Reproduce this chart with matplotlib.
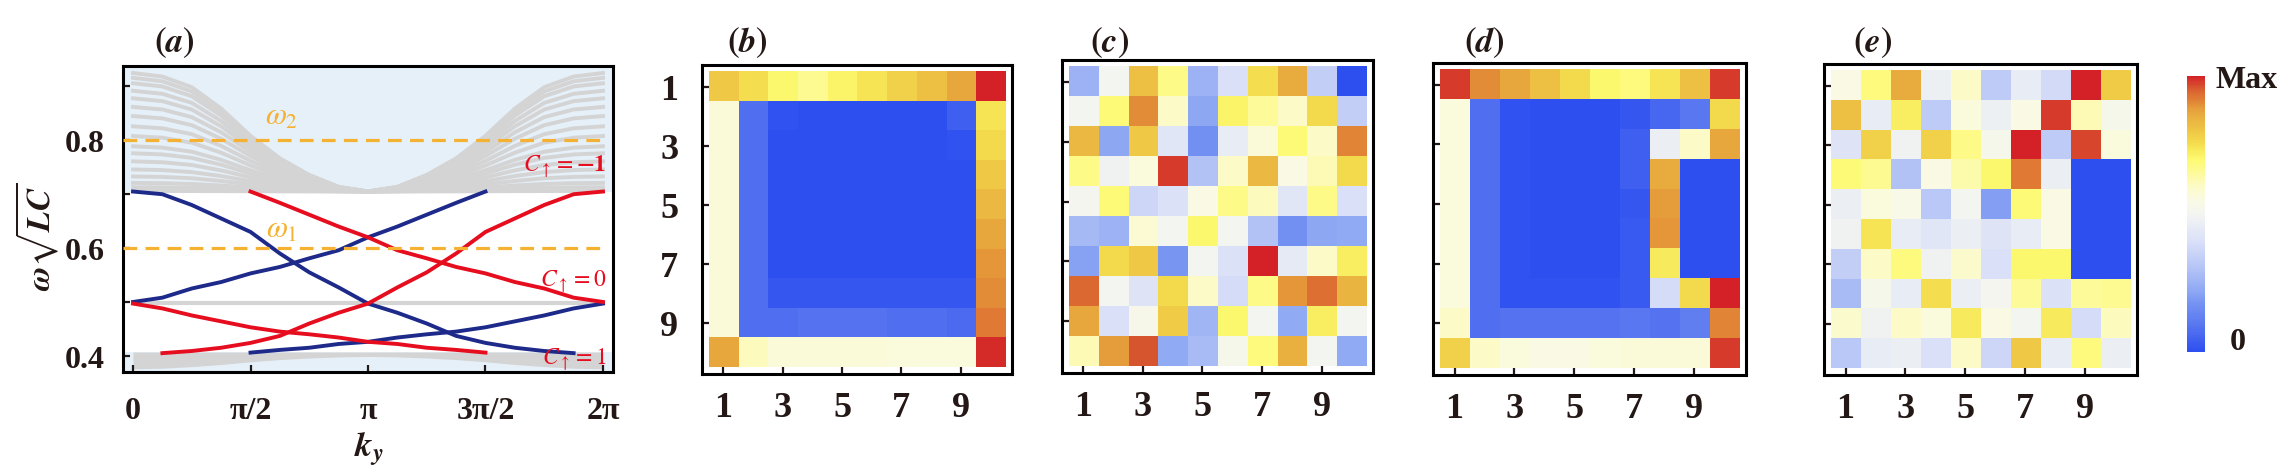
import matplotlib
matplotlib.use('Agg')
import matplotlib.pyplot as plt
from matplotlib.colors import LinearSegmentedColormap
import numpy as np

plt.rcParams['font.family'] = 'Liberation Serif'
plt.rcParams['mathtext.fontset'] = 'stix'

W, H = 2291, 477
INK = '#231815'
BG = '#e6f0f9'
GRAY = '#d4d4d4'
BLUE = '#1d2a8a'
RED = '#e60d1f'
ORANGE = '#f5b131'

# ── panel (a): band structure, sampled every pi/8 ───────────────────────────
K = np.arange(17) * np.pi / 8
K_TICKS = [0, np.pi / 2, np.pi, 3 * np.pi / 2, 2 * np.pi]
K_LABELS = ['0', 'π/2', 'π', '3π/2', '2π']
Y_TICKS = [0.4, 0.6, 0.8]
Y_MINOR = [0.5, 0.7, 0.9]

# upper bulk band: level of each curve at k = 0, and common profile over k
UPPER_K0 = [0.925, 0.916, 0.906, 0.892, 0.878, 0.862, 0.845, 0.826, 0.808,
            0.789, 0.776, 0.761, 0.746, 0.733, 0.721, 0.713, 0.706]
UPPER_BASE = 0.705
UPPER_SHAPE = np.array([1.0, 0.97, 0.88, 0.70, 0.47, 0.28, 0.14, 0.04, 0.0,
                        0.04, 0.14, 0.28, 0.47, 0.70, 0.88, 0.97, 1.0])
# lower bulk band edge
LOWER_EDGE = [0.376, 0.377, 0.380, 0.384, 0.389, 0.393, 0.396, 0.398, 0.399,
              0.398, 0.396, 0.393, 0.389, 0.384, 0.380, 0.377, 0.376]
LOWER_TOP = 0.407
MID_BAND = 0.499
nan = np.nan
# edge states (blue); red ones are their mirror images in k
B1 = [0.705, 0.700, 0.680, 0.655, 0.630, 0.590, 0.555, 0.527, 0.497,
      0.480, 0.460, 0.437, 0.424, 0.415, 0.409, 0.405, nan]
B2 = [0.500, 0.508, 0.525, 0.537, 0.553, 0.565, 0.581, 0.596, 0.620,
      0.640, 0.662, 0.684, 0.705, nan, nan, nan, nan]
R3 = [0.497, 0.488, 0.475, 0.464, 0.453, 0.445, 0.440, 0.434, 0.426,
      0.422, 0.415, 0.411, 0.406, nan, nan, nan, nan]
OMEGA1, OMEGA2 = 0.6, 0.8
CHERN_LABELS = [r'$C_{\uparrow}=\mathbf{-1}$', r'$C_{\uparrow}=0$',
                r'$C_{\uparrow}=1$']
CHERN_Y = [0.752, 0.540, 0.394]

# ── heat maps (normalised 0 .. Max) ─────────────────────────────────────────
B_GRID = [
    [0.80, 0.75, 0.70, 0.66, 0.71, 0.74, 0.78, 0.82, 0.87, 1.00],
    [0.57, 0.08, 0.01, 0.00, 0.00, 0.00, 0.00, 0.00, 0.04, 0.74],
    [0.57, 0.08, 0.00, 0.00, 0.00, 0.00, 0.00, 0.00, 0.01, 0.76],
    [0.57, 0.08, 0.00, 0.00, 0.00, 0.00, 0.00, 0.00, 0.00, 0.80],
    [0.57, 0.08, 0.00, 0.00, 0.00, 0.00, 0.00, 0.00, 0.00, 0.83],
    [0.57, 0.08, 0.00, 0.00, 0.00, 0.00, 0.00, 0.00, 0.00, 0.87],
    [0.57, 0.08, 0.00, 0.00, 0.00, 0.00, 0.00, 0.00, 0.00, 0.89],
    [0.57, 0.08, 0.02, 0.02, 0.02, 0.02, 0.02, 0.02, 0.02, 0.90],
    [0.57, 0.08, 0.08, 0.09, 0.09, 0.09, 0.08, 0.08, 0.07, 0.92],
    [0.87, 0.61, 0.57, 0.57, 0.57, 0.57, 0.56, 0.56, 0.56, 0.99],
]
C_GRID = [
    [0.25, 0.50, 0.82, 0.67, 0.25, 0.40, 0.75, 0.86, 0.34, 0.00],
    [0.50, 0.69, 0.90, 0.60, 0.22, 0.71, 0.65, 0.60, 0.76, 0.34],
    [0.83, 0.22, 0.80, 0.43, 0.17, 0.46, 0.57, 0.69, 0.60, 0.91],
    [0.67, 0.49, 0.56, 0.98, 0.30, 0.60, 0.83, 0.55, 0.62, 0.76],
    [0.51, 0.69, 0.37, 0.41, 0.55, 0.67, 0.61, 0.43, 0.67, 0.40],
    [0.27, 0.25, 0.58, 0.50, 0.70, 0.50, 0.30, 0.17, 0.22, 0.23],
    [0.21, 0.76, 0.80, 0.18, 0.50, 0.41, 1.00, 0.45, 0.60, 0.72],
    [0.94, 0.50, 0.42, 0.76, 0.60, 0.39, 0.67, 0.89, 0.93, 0.84],
    [0.87, 0.40, 0.53, 0.79, 0.26, 0.70, 0.50, 0.23, 0.72, 0.50],
    [0.62, 0.88, 0.96, 0.23, 0.28, 0.52, 0.68, 0.85, 0.50, 0.23],
]
D_GRID = [
    [0.98, 0.90, 0.87, 0.82, 0.76, 0.70, 0.68, 0.74, 0.82, 0.98],
    [0.56, 0.08, 0.01, 0.00, 0.00, 0.00, 0.02, 0.06, 0.10, 0.76],
    [0.56, 0.08, 0.01, 0.00, 0.00, 0.00, 0.04, 0.47, 0.60, 0.87],
    [0.56, 0.08, 0.01, 0.00, 0.00, 0.00, 0.04, 0.86, 0.00, 0.00],
    [0.56, 0.08, 0.01, 0.00, 0.00, 0.00, 0.02, 0.88, 0.00, 0.00],
    [0.56, 0.08, 0.01, 0.00, 0.00, 0.00, 0.03, 0.89, 0.00, 0.00],
    [0.56, 0.08, 0.01, 0.00, 0.00, 0.00, 0.03, 0.73, 0.00, 0.00],
    [0.56, 0.08, 0.01, 0.01, 0.01, 0.01, 0.03, 0.39, 0.76, 1.00],
    [0.60, 0.08, 0.09, 0.09, 0.09, 0.09, 0.10, 0.09, 0.12, 0.91],
    [0.78, 0.60, 0.56, 0.55, 0.55, 0.56, 0.57, 0.57, 0.57, 0.98],
]
E_GRID = [
    [0.55, 0.68, 0.86, 0.48, 0.60, 0.33, 0.46, 0.38, 1.00, 0.79],
    [0.82, 0.46, 0.72, 0.33, 0.56, 0.48, 0.55, 0.98, 0.62, 0.52],
    [0.42, 0.78, 0.49, 0.78, 0.67, 0.52, 1.00, 0.33, 0.97, 0.56],
    [0.69, 0.66, 0.30, 0.55, 0.63, 0.70, 0.92, 0.47, 0.00, 0.00],
    [0.47, 0.56, 0.54, 0.32, 0.50, 0.20, 0.69, 0.55, 0.00, 0.00],
    [0.49, 0.74, 0.46, 0.43, 0.47, 0.42, 0.46, 0.55, 0.00, 0.00],
    [0.34, 0.60, 0.68, 0.49, 0.59, 0.40, 0.70, 0.70, 0.00, 0.00],
    [0.28, 0.52, 0.46, 0.75, 0.47, 0.51, 0.65, 0.41, 0.65, 0.66],
    [0.59, 0.49, 0.60, 0.56, 0.73, 0.55, 0.50, 0.73, 0.39, 0.61],
    [0.32, 0.46, 0.47, 0.40, 0.60, 0.37, 0.80, 0.46, 0.68, 0.47],
]
SITE_TICKS = [1, 3, 5, 7, 9]

CM_POS = [0.0, 0.1, 0.17, 0.22, 0.3, 0.4, 0.5, 0.55, 0.6, 0.65, 0.7, 0.75,
          0.8, 0.87, 0.9, 0.93, 0.96, 1.0]
CM_COL = ['#2d4ff0', '#5a78f0', '#7391f2', '#8ea8f4', '#b3c3f6', '#dae0f8',
          '#f3f5f2', '#fafae4', '#fcfbc8', '#fdfa9a', '#fdfa70', '#f5e050',
          '#efc845', '#e8a83e', '#e38e38', '#de7233', '#d8572f', '#d42027']
cmap = LinearSegmentedColormap.from_list('heat', list(zip(CM_POS, CM_COL)))

fig = plt.figure(figsize=(W / 100, H / 100), dpi=100)


def box(l, r, t, b):
    return [l / W, 1 - b / H, (r - l) / W, (b - t) / H]


def style(ax, size, xpad, ypad):
    for s in ax.spines.values():
        s.set_linewidth(2.2)
        s.set_color('black')
    ax.tick_params(which='both', direction='in', length=5, width=1.6,
                   top=False, right=False, labelsize=size, colors=INK)
    ax.tick_params(axis='x', pad=xpad)
    ax.tick_params(axis='y', pad=ypad)
    for lbl in ax.get_xticklabels() + ax.get_yticklabels():
        lbl.set_fontweight('bold')


def panel_label(x, text):
    fig.text(x / W, 1 - 43 / H, text, ha='center', va='center',
             fontsize=25, color=INK)


# ═══ panel (a) ══════════════════════════════════════════════════════════════
ax = fig.add_axes(box(123, 613, 67, 373))
ax.set_xlim(-0.134, 2 * np.pi + 0.134)
ax.set_ylim(0.370, 0.938)
ax.axhspan(UPPER_BASE, 1.0, color=BG, lw=0, zorder=0)
ax.axhspan(0.0, LOWER_TOP, color=BG, lw=0, zorder=0)
for lev in UPPER_K0:
    ax.plot(K, UPPER_BASE + (lev - UPPER_BASE) * UPPER_SHAPE, color=GRAY,
            lw=2.8, zorder=1)
ax.fill_between(K, LOWER_EDGE, LOWER_TOP, color=GRAY, lw=0, zorder=1)
ax.hlines(MID_BAND, K[0], K[-1], color=GRAY, lw=3.0, zorder=1)

for ys, col in [(B1, BLUE), (B2, BLUE), (R3[::-1], BLUE),
                (B1[::-1], RED), (B2[::-1], RED), (R3, RED)]:
    ax.plot(K, ys, color=col, lw=2.8, zorder=3)

ax.hlines([OMEGA1, OMEGA2], -0.134, 2 * np.pi + 0.05, color=ORANGE, lw=2.3,
          linestyles=[(0, (4.3, 2.6))], zorder=4)
ax.text(1.99, 0.845, r'$\omega_2$', color=ORANGE, fontsize=22,
        ha='center', va='center', zorder=5)
ax.text(1.99, 0.634, r'$\omega_1$', color=ORANGE, fontsize=22,
        ha='center', va='center', zorder=5)
for txt, y in zip(CHERN_LABELS, CHERN_Y):
    ax.text(2 * np.pi + 0.04, y, txt, color=RED, fontsize=17,
            ha='right', va='center', zorder=5)

ax.set_xticks(K_TICKS, K_LABELS)
ax.set_yticks(Y_TICKS)
ax.set_yticks(Y_MINOR, minor=True)
ax.set_yticklabels(['0.4', '0.6', '0.8'])
style(ax, 23, 17, 13)
ax.text(-0.175, 0.444, r'$\mathbfit{\omega}\sqrt{\mathbfit{LC}}$',
        transform=ax.transAxes, rotation=90, ha='center', va='center',
        fontsize=24, color=INK)
ax.text(0.502, -0.25, r'$\mathbfit{k}_{\mathbfit{y}}$',
        transform=ax.transAxes, ha='center', va='center', fontsize=25,
        color=INK)
panel_label(174, r'$\mathbf{(}\mathbfit{a}\mathbf{)}$')

# ═══ panels (b)-(e) ═════════════════════════════════════════════════════════
panels = [
    ('b', B_GRID, (702, 1012, 66, 375), True, 747),
    ('c', C_GRID, (1062, 1373, 61, 374), False, 1110),
    ('d', D_GRID, (1433, 1746, 64, 376), False, 1484),
    ('e', E_GRID, (1824, 2137, 65, 376), False, 1873),
]
im = None
for name, grid, pos, ylab, lx in panels:
    ax = fig.add_axes(box(*pos))
    im = ax.imshow(np.array(grid), cmap=cmap, vmin=0, vmax=1,
                   extent=(0.5, 10.5, 10.5, 0.5), interpolation='nearest',
                   aspect='auto')
    ax.set_xlim(0.28, 10.73)
    ax.set_ylim(10.73, 0.27)
    ax.set_xticks(SITE_TICKS)
    ax.set_yticks(SITE_TICKS)
    if not ylab:
        ax.set_yticklabels([])
    style(ax, 26, 12, 17)
    panel_label(lx, r'$\mathbf{(}\mathbfit{' + name + r'}\mathbf{)}$')

# colour bar
cax = fig.add_axes(box(2187, 2205, 77, 353))
cb = fig.colorbar(im, cax=cax)
cb.outline.set_visible(False)
cb.set_ticks([])
fig.text(2247 / W, 1 - 81 / H, 'Max', ha='center', va='center',
         fontsize=23, fontweight='bold', color=INK)
fig.text(2238 / W, 1 - 343 / H, '0', ha='center', va='center',
         fontsize=23, fontweight='bold', color=INK)

fig.savefig('out.png', dpi=100, facecolor='white')
